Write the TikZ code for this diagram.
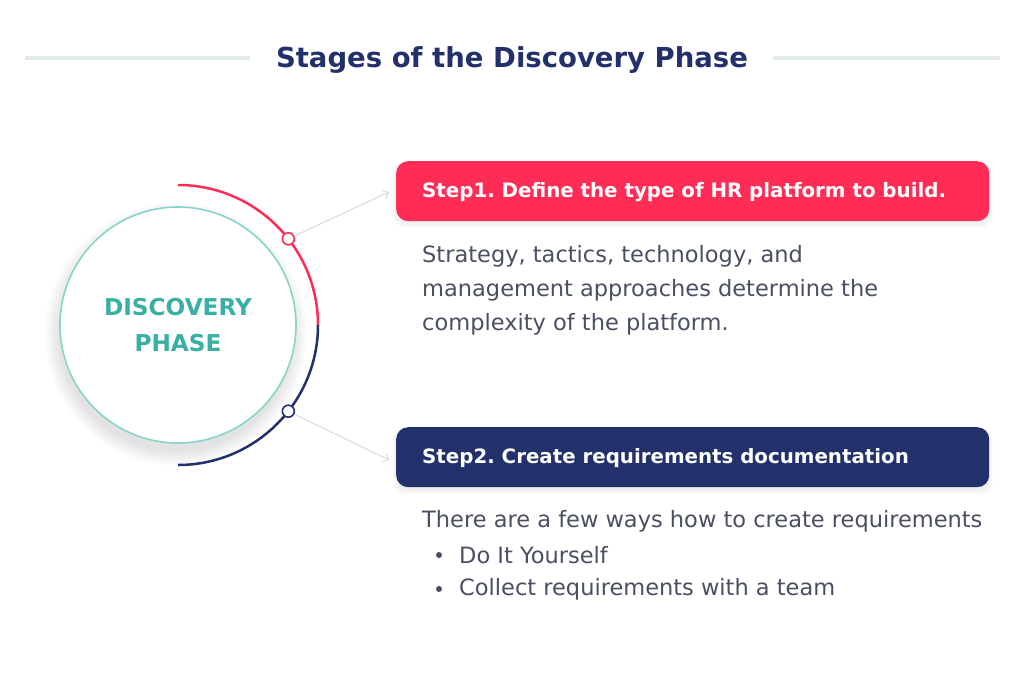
\documentclass[tikz,border=0pt]{standalone}
\usepackage{fontspec}
\setmainfont{DejaVu Sans}
\usetikzlibrary{arrows.meta}
\frenchspacing
\definecolor{navy}{HTML}{22306B}
\definecolor{redc}{HTML}{FF2D55}
\definecolor{tealc}{HTML}{3AAFA3}
\definecolor{tealline}{HTML}{86D4CA}
\definecolor{bodyc}{HTML}{4A5062}
\definecolor{rulec}{HTML}{E2E9EB}
\definecolor{arrowc}{HTML}{CFCFCF}
\tikzset{
  stepbox/.style={rounded corners=12pt, minimum width=593pt, minimum height=60pt, anchor=north west, inner sep=0pt},
  steptext/.style={text=white, font=\fontsize{19.8}{23}\selectfont\bfseries, anchor=west, inner sep=0pt},
  bodytext/.style={text=bodyc, font=\fontsize{22.5}{34}\selectfont, anchor=west, inner sep=0pt, align=left},
  dotc/.style={circle, fill=white, line width=1.6pt, minimum size=12pt, inner sep=0pt},
  bullet/.style={circle, fill=bodyc, inner sep=0pt, minimum size=6pt},
  conn/.style={draw=arrowc, line width=0.7pt, -{Straight Barb[length=5pt,width=9pt]}},
  rulel/.style={draw=rulec, line width=3pt}
}
\begin{document}
\begin{tikzpicture}[x=1pt,y=-1pt]
\useasboundingbox (0,0) rectangle (1024,685);
\fill[white] (0,0) rectangle (1024,685);
% title
\node[font=\fontsize{27.5}{32}\selectfont\bfseries, text=navy, inner sep=0pt] (title) at (512,60) {Stages of the Discovery Phase};
\coordinate (rl1) at (25,58); \coordinate (rl2) at (250,58);
\coordinate (rr1) at (773,58); \coordinate (rr2) at (1000,58);
\draw[rulel] (rl1) -- (rl2);
\draw[rulel] (rr1) -- (rr2);
% soft shadow of main circle
\foreach \i in {1,...,14}{
  \fill[black, opacity=0.008] (176,334) circle[radius={116pt+\i*1.1pt}];
}
% soft shadows of step boxes
\foreach \i in {1,...,5}{
  \fill[black, opacity=0.012, rounded corners=12pt] ({396-\i*0.8},{164-\i*0.4}) rectangle ({989+\i*0.8},{224+\i*0.8});
  \fill[black, opacity=0.012, rounded corners=12pt] ({396-\i*0.8},{430-\i*0.4}) rectangle ({989+\i*0.8},{490+\i*0.8});
}
% main circle
\node[circle, draw=tealline, line width=1.6pt, fill=white, minimum size=236pt, inner sep=0pt,
  font=\fontsize{23.2}{36}\selectfont\bfseries, text=tealc, align=center] (disc) at (178,325) {DISCOVERY\\PHASE};
% arcs
\draw[redc, line width=2.5pt] (178,185) arc[start angle=90, end angle=0, radius=140pt];
\draw[navy, line width=2.5pt] (318,325) arc[start angle=0, end angle=-90, radius=140pt];
% dots
\node[dotc, draw=redc] (d1) at ({178+140*cos(38)},{325-140*sin(38)}) {};
\node[dotc, draw=navy] (d2) at ({178+140*cos(38)},{325+140*sin(38)}) {};
% step boxes
\node[stepbox, fill=redc] (s1) at (396,161) {};
\node[stepbox, fill=navy] (s2) at (396,427) {};
\node[steptext] (t1) at (422,192) {Step1. Define the type of HR platform to build.};
\node[steptext] (t2) at (422,458) {Step2. Create requirements documentation};
% connectors
\coordinate (a1) at (389,192);
\coordinate (a2) at (389,460);
\draw[conn] (d1) -- (a1);
\draw[conn] (d2) -- (a2);
% body text
\node[bodytext] (b1a) at (422,256) {Strategy, tactics, technology, and};
\node[bodytext] (b1b) at (422,290) {management approaches determine the};
\node[bodytext] (b1c) at (422,324) {complexity of the platform.};
\node[bodytext] (b2) at (422,521) {There are a few ways how to create requirements};
\node[bullet] (bu1) at (439,555) {};
\node[bullet] (bu2) at (439,589) {};
\node[bodytext] (b3) at (459,555) {Do It Yourself};
\node[bodytext] (b4) at (459,589) {Collect requirements with a team};
\end{tikzpicture}
\end{document}
